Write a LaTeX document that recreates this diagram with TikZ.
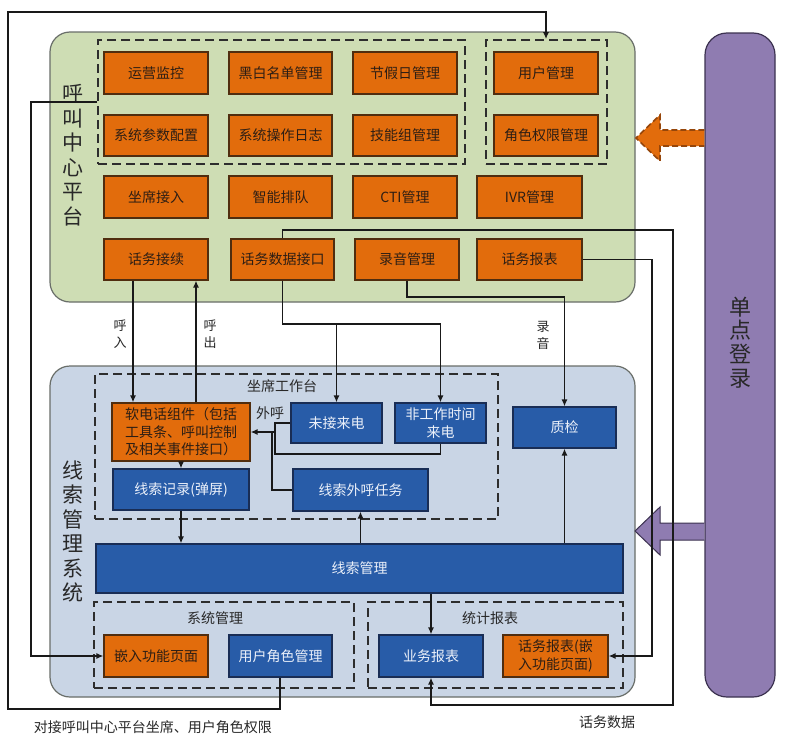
\documentclass[tikz,border=0pt]{standalone}
\usepackage{fontspec}
\setmainfont{Noto Sans CJK SC}
\usetikzlibrary{arrows.meta}
\definecolor{greenfill}{RGB}{206,221,180}
\definecolor{bluepanel}{RGB}{201,213,229}
\definecolor{panelborder}{RGB}{105,110,105}
\definecolor{ofill}{RGB}{226,108,12}
\definecolor{oborder}{RGB}{80,45,15}
\definecolor{otext}{RGB}{45,30,20}
\definecolor{bfill}{RGB}{40,92,168}
\definecolor{bborder}{RGB}{25,45,85}
\definecolor{btext}{RGB}{236,241,250}
\definecolor{pfill}{RGB}{143,124,177}
\definecolor{pborder}{RGB}{60,50,80}
\definecolor{linec}{RGB}{25,25,25}
\definecolor{dashc}{RGB}{45,45,45}
\definecolor{lblc}{RGB}{40,40,40}
\definecolor{oarrowborder}{RGB}{150,70,10}
\begin{document}
\begin{tikzpicture}[x=1pt,y=-1pt,
  panel/.style={draw=panelborder, line width=1.2, rounded corners=20, inner sep=0},
  grp/.style={draw=dashc, line width=1.8, dash pattern=on 9pt off 5pt, inner sep=0},
  obox/.style={draw=oborder, fill=ofill, line width=1.2, text=otext, inner sep=0, font=\fontsize{14}{17.5}\selectfont, align=center},
  bbox/.style={draw=bborder, fill=bfill, line width=1.2, text=btext, inner sep=0, font=\fontsize{14}{17.5}\selectfont, align=center},
  conn/.style={draw=linec, line width=1.3},
  arr/.style={conn, -{Latex[length=7pt,width=6pt]}},
  lbl/.style={text=lblc, inner sep=0, align=center, font=\fontsize{14}{17}\selectfont},
  big/.style={text=lblc, inner sep=0, align=center, font=\fontsize{21}{24.5}\selectfont}
]
\fill[white] (0,0) rectangle (798,739);
\useasboundingbox (0,0) rectangle (798,739);

% panels
\node[panel, fill=greenfill, minimum width=585, minimum height=270] (pcc) at (342.5,167) {};
\node[panel, fill=bluepanel, minimum width=585, minimum height=331] (pxs) at (342.5,531.5) {};
\node[draw=pborder, fill=pfill, line width=1.2, rounded corners=22, inner sep=0, minimum width=70, minimum height=664] (sso) at (740,365) {};

% big arrows
\path[fill=ofill] (sso.west |- 0,130) -- (660,130) -- (660,115) -- (636,138) -- (660,161) -- (660,146) -- (sso.west |- 0,146) -- cycle;
\draw[draw=oarrowborder, line width=1.6, dash pattern=on 6pt off 3pt] (sso.west |- 0,130) -- (660,130) -- (660,115) -- (636,138) -- (660,161) -- (660,146) -- (sso.west |- 0,146);
\path[fill=pfill] (sso.west |- 0,523) -- (660,523) -- (660,507) -- (635,531) -- (660,555) -- (660,540) -- (sso.west |- 0,540) -- cycle;
\draw[draw=pborder, line width=1] (sso.west |- 0,523) -- (660,523) -- (660,507) -- (635,531) -- (660,555) -- (660,540) -- (sso.west |- 0,540);

% labels of panels
\node[big] (tcc) at (73,155) {呼\\叫\\中\\心\\平\\台};
\node[big] (txs) at (73,531.5) {线\\索\\管\\理\\系\\统};
\node[big, font=\fontsize{22}{23.7}\selectfont] (tsso) at (740,342.5) {单\\点\\登\\录};

% dashed groups
\node[grp, minimum width=367, minimum height=124] (g1) at (281.5,102) {};
\node[grp, minimum width=121, minimum height=124] (g2) at (546.5,102) {};
\node[grp, minimum width=403, minimum height=145] (g3) at (296.5,446.5) {};
\node[grp, minimum width=260, minimum height=86] (g4) at (224,645) {};
\node[grp, minimum width=255, minimum height=86] (g5) at (495.5,645) {};

% call center boxes
\node[obox, minimum width=104, minimum height=42] (a1) at (156,73) {运营监控};
\node[obox, minimum width=103, minimum height=42] (a2) at (280.5,73) {黑白名单管理};
\node[obox, minimum width=104, minimum height=42] (a3) at (405,73) {节假日管理};
\node[obox, minimum width=104, minimum height=42] (a4) at (546,73) {用户管理};
\node[obox, minimum width=104, minimum height=41] (b1) at (156,135.5) {系统参数配置};
\node[obox, minimum width=103, minimum height=41] (b2) at (280.5,135.5) {系统操作日志};
\node[obox, minimum width=104, minimum height=41] (b3) at (405,135.5) {技能组管理};
\node[obox, minimum width=104, minimum height=41] (b4) at (546,135.5) {角色权限管理};
\node[obox, minimum width=104, minimum height=42] (c1) at (156,197) {坐席接入};
\node[obox, minimum width=103, minimum height=42] (c2) at (280.5,197) {智能排队};
\node[obox, minimum width=104, minimum height=42] (c3) at (405,197) {CTI管理};
\node[obox, minimum width=105, minimum height=42] (c4) at (529.5,197) {IVR管理};
\node[obox, minimum width=104, minimum height=41] (jx) at (156,259.5) {话务接续};
\node[obox, minimum width=103, minimum height=41] (sjjk) at (282.5,259.5) {话务数据接口};
\node[obox, minimum width=104, minimum height=41] (lygl) at (407,259.5) {录音管理};
\node[obox, minimum width=105, minimum height=41] (hwbb) at (529.5,259.5) {话务报表};

% lead management boxes
\node[lbl] (tzx) at (282,386) {坐席工作台};
\node[obox, minimum width=138, minimum height=58] (soft) at (181,432) {软电话组件（包括\\工具条、呼叫控制\\及相关事件接口）};
\node[bbox, minimum width=91, minimum height=40] (wj) at (336.5,423) {未接来电};
\node[bbox, minimum width=91, minimum height=40] (fgz) at (440.5,423) {非工作时间\\来电};
\node[bbox, minimum width=136, minimum height=41] (jl) at (181,489.5) {线索记录(弹屏)};
\node[bbox, minimum width=135, minimum height=42] (wh) at (360.5,490) {线索外呼任务};
\node[bbox, minimum width=103, minimum height=41] (zj) at (564.5,427.5) {质检};
\node[bbox, minimum width=527, minimum height=49] (xsgl) at (359.5,568.5) {线索管理};
\node[lbl] (txtgl) at (215,618) {系统管理};
\node[lbl] (ttjbb) at (490,618) {统计报表};
\node[obox, minimum width=104, minimum height=42] (qr) at (156,656) {嵌入功能页面};
\node[bbox, minimum width=103, minimum height=42] (yhjs) at (280.5,656) {用户角色管理};
\node[bbox, minimum width=104, minimum height=42] (ywbb) at (431,656) {业务报表};
\node[obox, minimum width=105, minimum height=42] (hwbbq) at (555.5,656) {话务报表(嵌\\入功能页面)};

% connector labels
\node[lbl, font=\fontsize{13}{17}\selectfont] (thr) at (120,334) {呼\\入};
\node[lbl, font=\fontsize{13}{17}\selectfont] (thc) at (210,334) {呼\\出};
\node[lbl, font=\fontsize{13}{17}\selectfont] (tly) at (543,335) {录\\音};
\node[lbl] (twh) at (270,413) {外呼};
\node[lbl] (thwsj) at (607,722) {话务数据};
\node[lbl] (tdj) at (153,727) {对接呼叫中心平台坐席、用户角色权限};

% connectors
\draw[arr] (jx.south -| 133,0) -- (soft.north -| 133,0);
\draw[arr] (soft.north -| 196,0) -- (jx.south -| 196,0);
\draw[arr] (sjjk.south) -- (sjjk.south |- 0,324) -- (fgz.north |- 0,324) -- (fgz.north);
\draw[arr] (wj.north |- 0,324) -- (wj.north);
\draw[arr] (sjjk.north) -- (sjjk.north |- 0,230) -- (673,230) -- (673,705) -- (ywbb.south |- 0,705) -- (ywbb.south);
\draw[arr] (hwbb.east) -- (652,259.5) -- (652,656) -- (hwbbq.east);
\draw[arr] (lygl.south) -- (lygl.south |- 0,297) -- (zj.north |- 0,297) -- (zj.north);
\draw[conn] (wj.west) -- (275,423) -- (275,454) -- (fgz.south |- 0,454) -- (fgz.south);
\draw[arr] (275,432) -- (soft.east);
\draw[conn] (wh.west) -- (272,490) -- (272,432);
\draw[arr] (soft.south) -- (jl.north);
\draw[arr] (jl.south) -- (jl.south |- xsgl.north);
\draw[arr] (xsgl.north -| wh.south) -- (wh.south);
\draw[arr] (xsgl.north -| zj.south) -- (zj.south);
\draw[arr] (xsgl.south -| ywbb.north) -- (ywbb.north);
\draw[arr] (g1.west |- 0,102) -- (31,102) -- (31,656) -- (qr.west);
\draw[arr] (yhjs.south -| 280,0) -- (280,709) -- (8,709) -- (8,12) -- (546,12) -- (g2.north -| 546,0);
\end{tikzpicture}
\end{document}
